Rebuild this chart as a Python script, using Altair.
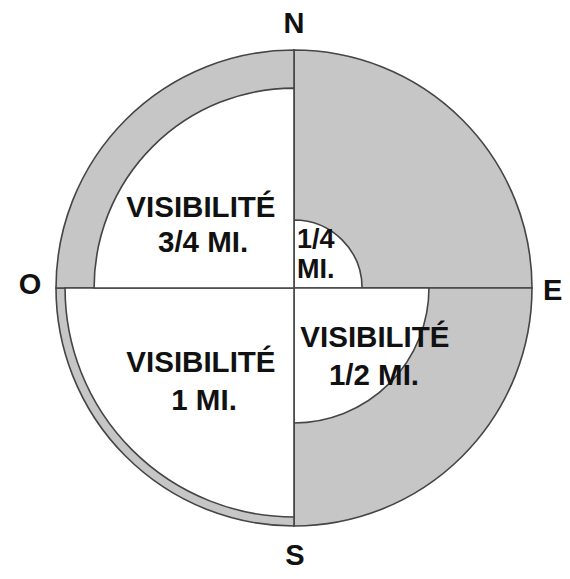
import math
import altair as alt
import pandas as pd

# --- data -------------------------------------------------------------
quadrants = ["NE", "SE", "SW", "NW"]
start_deg = [0, 90, 180, 270]
end_deg = [90, 180, 270, 360]
# reach of the white (visible) area, as a fraction of the outer circle
reach = [0.286, 0.567, 0.962, 0.84]

label_text = ["VISIBILITÉ", "3/4 MI.", "VISIBILITÉ", "1/2 MI.",
              "VISIBILITÉ", "1 MI.", "1/4", "MI."]
direction_text = ["N", "S", "O", "E"]

# --- layout (in units of the outer radius, centre = 0,0) -------------
label_u = [-0.391, -0.382, 0.340, 0.336, -0.391, -0.378, 0.0126, 0.0126]
label_v = [0.298, 0.151, -0.248, -0.408, -0.353, -0.513, 0.168, 0.042]
label_align = ["center"] * 6 + ["left", "left"]

dir_u = [0.0, 0.004, -1.109, 1.046]
dir_v = [1.111, -1.126, 0.0126, -0.0126]
dir_align = ["center", "center", "center", "left"]

W, H = 554, 563
R = 238
CX, CY = 286, 280

xscale = alt.Scale(domain=[-CX / R, (W - CX) / R], nice=False, zero=False)
yscale = alt.Scale(domain=[-(H - CY) / R, CY / R], nice=False, zero=False)
rscale = alt.Scale(domain=[0, 1], range=[0, R], zero=True, nice=False)
tscale = alt.Scale(domain=[0, 360], range=[0, 2 * math.pi], nice=False, zero=False)

df = pd.DataFrame({
    "quadrant": quadrants,
    "start": start_deg,
    "end": end_deg,
    "reach": reach,
    "outer": [1.0] * 4,
    "cx": [0.0] * 4,
    "cy": [0.0] * 4,
})

GRAY = "#c6c6c6"
LINE = "#454545"
SW_ = 1.6
FONT = "Liberation Sans"
INK = "#111111"

base = alt.Chart(df).encode(
    x=alt.X("cx:Q", scale=xscale, axis=None),
    y=alt.Y("cy:Q", scale=yscale, axis=None),
    theta=alt.Theta("start:Q", scale=tscale),
    theta2="end:Q",
)

outer = base.mark_arc(fill=GRAY, stroke=LINE, strokeWidth=SW_).encode(
    radius=alt.Radius("outer:Q", scale=rscale)
)
inner = base.mark_arc(fill="white", stroke=LINE, strokeWidth=SW_).encode(
    radius=alt.Radius("reach:Q", scale=rscale)
)

labels_df = pd.DataFrame({"t": label_text, "u": label_u, "v": label_v, "a": label_align})
lab_c = alt.Chart(labels_df[labels_df.a == "center"]).mark_text(
    font=FONT, fontWeight="bold", fontSize=29.5, color=INK,
    align="center", baseline="alphabetic"
).encode(
    x=alt.X("u:Q", scale=xscale, axis=None),
    y=alt.Y("v:Q", scale=yscale, axis=None),
    text="t:N",
)
lab_l = alt.Chart(labels_df[labels_df.a == "left"]).mark_text(
    font=FONT, fontWeight="bold", fontSize=27, color=INK,
    align="left", baseline="alphabetic"
).encode(
    x=alt.X("u:Q", scale=xscale, axis=None),
    y=alt.Y("v:Q", scale=yscale, axis=None),
    text="t:N",
)

dir_df = pd.DataFrame({"t": direction_text, "u": dir_u, "v": dir_v, "a": dir_align})
dir_c = alt.Chart(dir_df[dir_df.a == "center"]).mark_text(
    font=FONT, fontWeight="bold", fontSize=29, color=INK,
    align="center", baseline="middle"
).encode(
    x=alt.X("u:Q", scale=xscale, axis=None),
    y=alt.Y("v:Q", scale=yscale, axis=None),
    text="t:N",
)
dir_l = alt.Chart(dir_df[dir_df.a == "left"]).mark_text(
    font=FONT, fontWeight="bold", fontSize=29, color=INK,
    align="left", baseline="middle"
).encode(
    x=alt.X("u:Q", scale=xscale, axis=None),
    y=alt.Y("v:Q", scale=yscale, axis=None),
    text="t:N",
)

chart = alt.layer(outer, inner, lab_c, lab_l, dir_c, dir_l).properties(
    width=W, height=H,
    autosize=alt.AutoSizeParams(type="none"),
    padding=0,
    background="white",
).configure_view(stroke=None)

chart.save("out.html", embed_options={"renderer": "svg", "actions": False})
